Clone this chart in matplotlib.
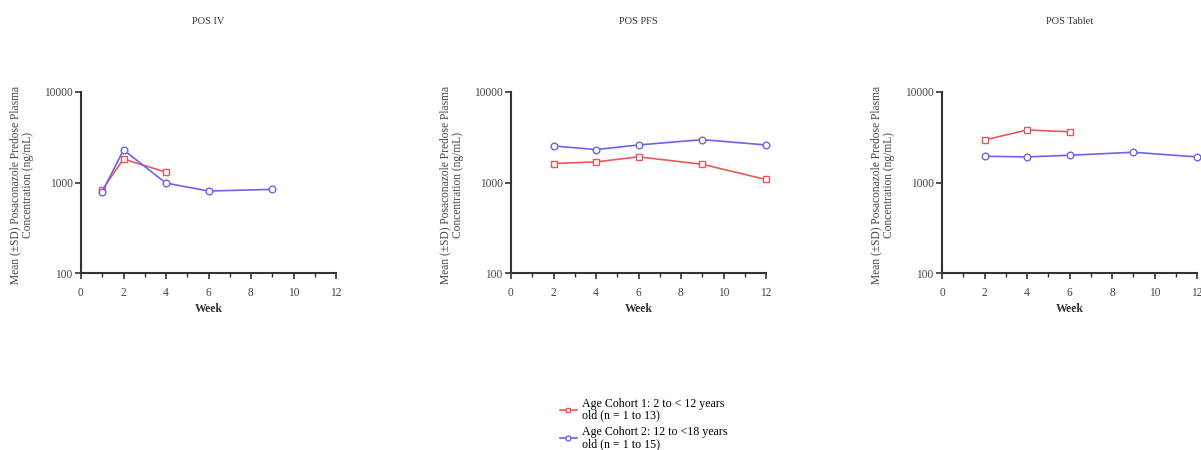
import matplotlib
matplotlib.use("Agg")
import matplotlib.pyplot as plt
from matplotlib.ticker import FixedLocator, NullLocator, NullFormatter

plt.rcParams['font.family'] = ['Liberation Serif', 'DejaVu Serif']

titles = ["POS IV", "POS PFS", "POS Tablet"]

# Age Cohort 1 (red squares)
c1_weeks = [[1, 2, 4], [2, 4, 6, 9, 12], [2, 4, 6]]
c1_vals = [[830, 1820, 1300], [1620, 1690, 1920, 1590, 1080], [2950, 3800, 3640]]
# Age Cohort 2 (blue circles)
c2_weeks = [[1, 2, 4, 6, 9], [2, 4, 6, 9, 12], [2, 4, 6, 9, 12]]
c2_vals = [[785, 2290, 985, 805, 840], [2535, 2310, 2600, 2975, 2600], [1950, 1918, 2000, 2158, 1918]]

c1_label = "Age Cohort 1: 2 to < 12 years\nold (n = 1 to 13)"
c2_label = "Age Cohort 2: 12 to <18 years\nold (n = 1 to 15)"
ylabel = "Mean (\u00b1SD) Posaconazole Predose Plasma\nConcentration (ng/mL)"

red = "#e8585a"
blue = "#6a64ec"
axcol = "#333333"

W, H = 1201, 450
fig = plt.figure(figsize=(W / 100, H / 100), dpi=100)
lefts = [81, 511, 942]
bottom_px, top_px = 273, 92
width_px = 255
height_px = bottom_px - top_px

for i, lp in enumerate(lefts):
    ax = fig.add_axes([lp / W, 1 - bottom_px / H, width_px / W, height_px / H])
    ax.set_yscale('log')
    ax.set_xlim(0, 12)
    ax.set_ylim(100, 10000)
    ax.plot(c1_weeks[i], c1_vals[i], color=red, lw=1.2, marker='s', ms=4.8,
            mfc='white', mec=red, mew=1.0, label=c1_label, clip_on=False)
    ax.plot(c2_weeks[i], c2_vals[i], color=blue, lw=1.2, marker='o', ms=4.8,
            mfc='white', mec=blue, mew=1.0, label=c2_label, clip_on=False)
    for s in ['top', 'right']:
        ax.spines[s].set_visible(False)
    for s in ['left', 'bottom']:
        ax.spines[s].set_color(axcol)
        ax.spines[s].set_linewidth(1.5)
    ax.xaxis.set_major_locator(FixedLocator([0, 2, 4, 6, 8, 10, 12]))
    ax.xaxis.set_minor_locator(FixedLocator([1, 3, 5, 7, 9, 11]))
    ax.yaxis.set_major_locator(FixedLocator([100, 1000, 10000]))
    ax.yaxis.set_minor_locator(NullLocator())
    ax.yaxis.set_minor_formatter(NullFormatter())
    ax.set_yticklabels(["100", "1000", "10000"])
    ax.tick_params(axis='both', which='major', direction='out', length=4, width=1.2,
                   color=axcol, labelsize=8.3, labelcolor='#444444')
    ax.tick_params(axis='x', which='major', pad=6)
    ax.tick_params(axis='y', which='major', pad=2)
    ax.tick_params(axis='x', which='minor', direction='out', length=3, width=1.0, color=axcol)
    ax.set_xlabel("Week", fontsize=8.5, color='#333333', labelpad=3, fontweight='bold')
    ax.set_ylabel(ylabel, fontsize=8.3, color='#444444', linespacing=1.05, va='center')
    ax.yaxis.set_label_coords((22 - 81) / width_px, (273 - 185) / height_px)
    fig.text((lp + width_px / 2) / W, 1 - 21 / H, titles[i], ha='center', va='center',
             fontsize=7.5, color='#333333')
    if i == 0:
        handles, labels = ax.get_legend_handles_labels()

leg = fig.legend(handles, labels, loc='upper left', bbox_to_anchor=(555 / W, 1 - 393 / H),
                 frameon=False, handlelength=1.4, handletextpad=0.45,
                 labelspacing=0.35, borderaxespad=0, markerscale=0.75,
                 prop={'size': 8.6})
for t in leg.get_texts():
    t.set_linespacing(1.0)

fig.savefig("out.png", dpi=100)
